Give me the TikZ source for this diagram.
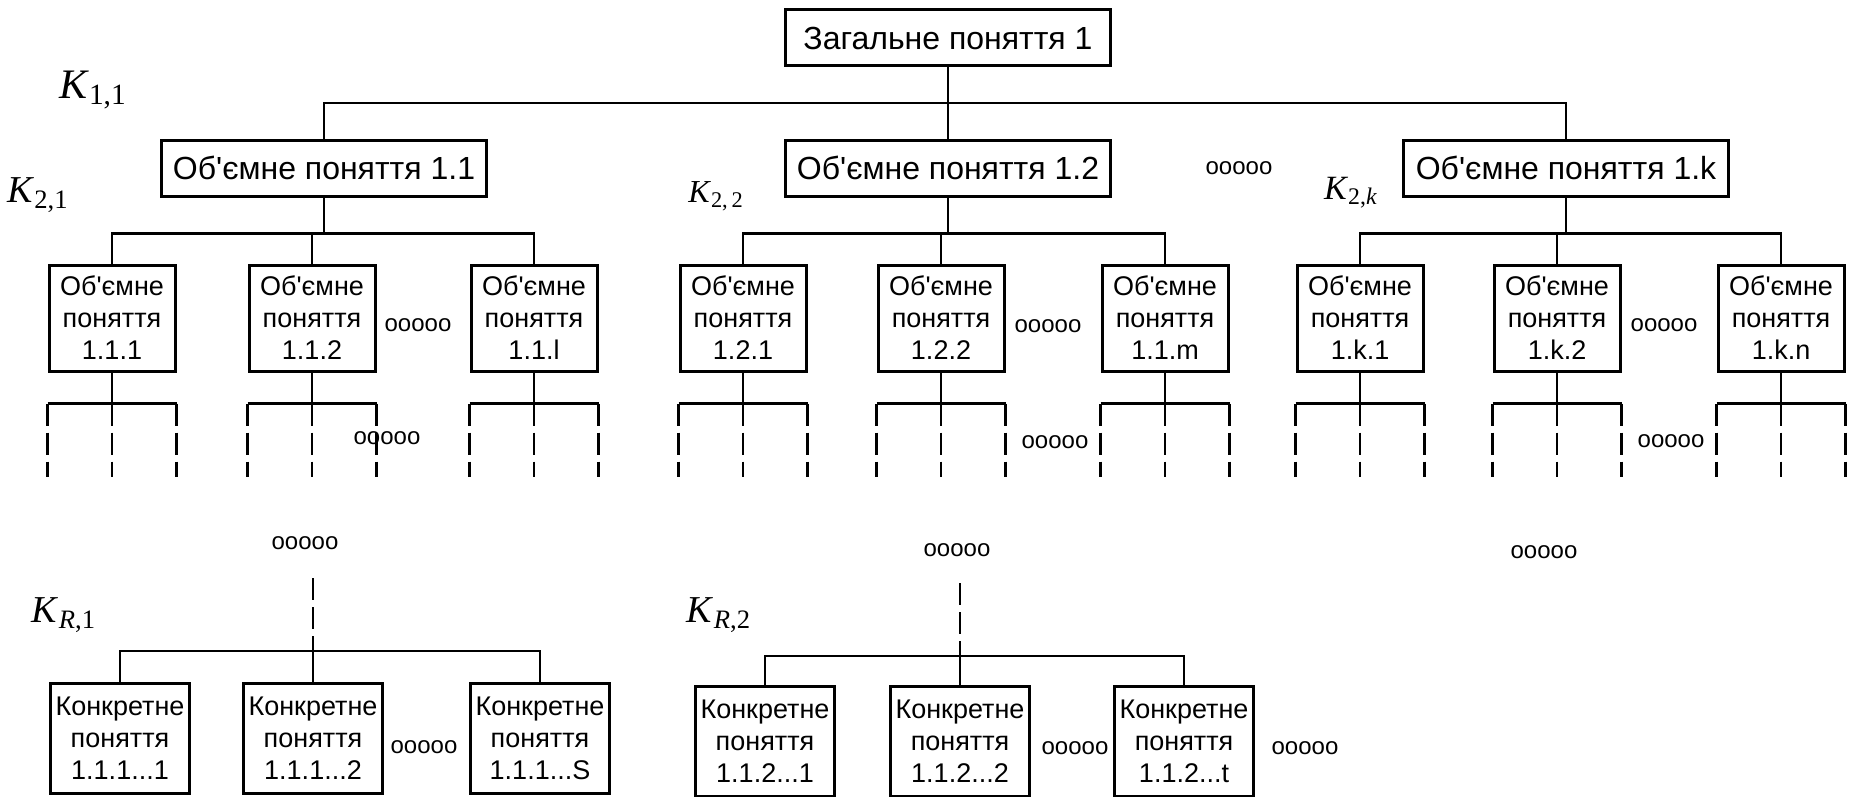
\documentclass[tikz,border=0pt]{standalone}
\usepackage{fontspec}
\setmainfont{Liberation Sans}
\newfontfamily\timesfont{Liberation Serif}
\newcommand{\obyem}{Об\textquotesingle ємне}

\begin{document}
\begin{tikzpicture}[x=0.5pt, y=-0.5pt]
% styles of the boxes
\tikzstyle{zagal} = [rectangle, draw, line width=1.5pt, minimum width=162.5pt, minimum height=28pt, inner sep=2pt, font=\fontsize{16}{19}\selectfont]
\tikzstyle{obyemne} = [rectangle, draw, line width=1.5pt, minimum width=63pt, minimum height=53pt, inner sep=1pt, align=center, font=\fontsize{13.5}{16}\selectfont]
\tikzstyle{konkr} = [obyemne, minimum width=69.5pt, minimum height=55pt]
\tikzstyle{indeks} = [inner sep=0pt, font=\timesfont\fontsize{19}{19}\selectfont]
\tikzstyle{krapky} = [inner sep=0pt, font=\fontsize{12}{12}\selectfont]
% styles of the lines
\tikzstyle{zvyazok} = [line width=1.4pt]
\tikzstyle{tonkyi} = [line width=1pt]
\tikzstyle{punktyr} = [zvyazok, dash pattern=on 11pt off 3.5pt]

\useasboundingbox (0,0) rectangle (1851,797);

%% nodes
\node[zagal] (zag) at (948,38) {Загальне поняття 1};
\node[zagal] (ob11) at (324,168) {\obyem{} поняття 1.1};
\node[zagal] (ob12) at (948,168) {\obyem{} поняття 1.2};
\node[zagal] (ob1k) at (1566,168) {\obyem{} поняття 1.k};
\node[krapky] (kr0) at (1239,168) {ooooo};
%
\node[obyemne] (ob111) at (112,318) {\obyem\\поняття\\1.1.1};
\node[obyemne] (ob112) at (312,318) {\obyem\\поняття\\1.1.2};
\node[obyemne] (ob11l) at (534,318) {\obyem\\поняття\\1.1.l};
\node[obyemne] (ob121) at (743,318) {\obyem\\поняття\\1.2.1};
\node[obyemne] (ob122) at (941,318) {\obyem\\поняття\\1.2.2};
\node[obyemne] (ob11m) at (1165,318) {\obyem\\поняття\\1.1.m};
\node[obyemne] (ob1k1) at (1360,318) {\obyem\\поняття\\1.k.1};
\node[obyemne] (ob1k2) at (1557,318) {\obyem\\поняття\\1.k.2};
\node[obyemne] (ob1kn) at (1781,318) {\obyem\\поняття\\1.k.n};
\node[krapky] (kr1) at (418,325) {ooooo};
\node[krapky] (kr2) at (1048,326) {ooooo};
\node[krapky] (kr3) at (1664,325) {ooooo};
\node[krapky] (kr4) at (387,438) {ooooo};
\node[krapky] (kr5) at (1055,442) {ooooo};
\node[krapky] (kr6) at (1671,441) {ooooo};
%
\node[krapky] (kr7) at (305,543) {ooooo};
\node[krapky] (kr8) at (957,550) {ooooo};
\node[krapky] (kr9) at (1544,552) {ooooo};
\node[konkr] (k111) at (120,738) {Конкретне\\поняття\\1.1.1...1};
\node[konkr] (k112) at (313,738) {Конкретне\\поняття\\1.1.1...2};
\node[konkr] (k11s) at (540,738) {Конкретне\\поняття\\1.1.1...S};
\node[konkr] (k121) at (765,741) {Конкретне\\поняття\\1.1.2...1};
\node[konkr] (k122) at (960,741) {Конкретне\\поняття\\1.1.2...2};
\node[konkr] (k12t) at (1184,741) {Конкретне\\поняття\\1.1.2...t};
\node[krapky] (kr10) at (424,747) {ooooo};
\node[krapky] (kr11) at (1075,748) {ooooo};
\node[krapky] (kr12) at (1305,748) {ooooo};
%
\node[indeks, font=\timesfont\fontsize{21}{21}\selectfont] (ind11) at (93,90) {\textit{K}\textsubscript{1,1}};
\node[indeks] (ind21) at (38,195) {\textit{K}\textsubscript{2,1}};
\node[indeks, font=\timesfont\fontsize{16}{16}\selectfont] (ind22) at (716,196) {\textit{K}\textsubscript{2,\,2}};
\node[indeks, font=\timesfont\fontsize{17}{17}\selectfont] (ind2k) at (1351,193) {\textit{K}\textsubscript{2,\textit{k}}};
\node[indeks] (indr1) at (64,615) {\textit{K}\textsubscript{\textit{R},1}};
\node[indeks] (indr2) at (719,615) {\textit{K}\textsubscript{\textit{R},2}};
\coordinate (hub0) at (948,103);
\coordinate (rv1) at (313,578);
\coordinate (rv2) at (960,583);

%% lines
\draw[zvyazok] (zag) -- (ob12);
\draw[zvyazok] (ob11.north) -- (ob11.north |- hub0) -- (ob1k.north |- hub0) -- (ob1k.north);
\foreach \p/\a/\b/\c in {ob11/ob111/ob112/ob11l, ob12/ob121/ob122/ob11m, ob1k/ob1k1/ob1k2/ob1kn}{
  \draw[zvyazok] (\p.south) -- ++(0,36) coordinate (h\p);
  \draw[zvyazok] (\a.north) -- (\a.north |- h\p) -- (\c.north |- h\p) -- (\c.north);
  \draw[zvyazok] (h\p) -- (\b.north |- h\p) -- (\b.north);
}
\foreach \n in {ob111,ob112,ob11l,ob121,ob122,ob11m,ob1k1,ob1k2,ob1kn}{
  \draw[zvyazok] (\n.south) -- ++(0,31) coordinate (s\n);
  \draw[zvyazok] (\n.south west |- s\n) -- (\n.south east |- s\n);
  \foreach \q in {south west,south,south east}
    \draw[punktyr] (\n.\q |- s\n) -- ++(0,73);
}
\foreach \v/\a/\b/\c in {rv1/k111/k112/k11s, rv2/k121/k122/k12t}{
  \draw[punktyr, tonkyi] (\v) -- ++(0,73) coordinate (h\v);
  \draw[tonkyi] (\a.north) -- (\a.north |- h\v) -- (\c.north |- h\v) -- (\c.north);
  \draw[tonkyi] (h\v) -- (\b.north);
}
\end{tikzpicture}
\end{document}
